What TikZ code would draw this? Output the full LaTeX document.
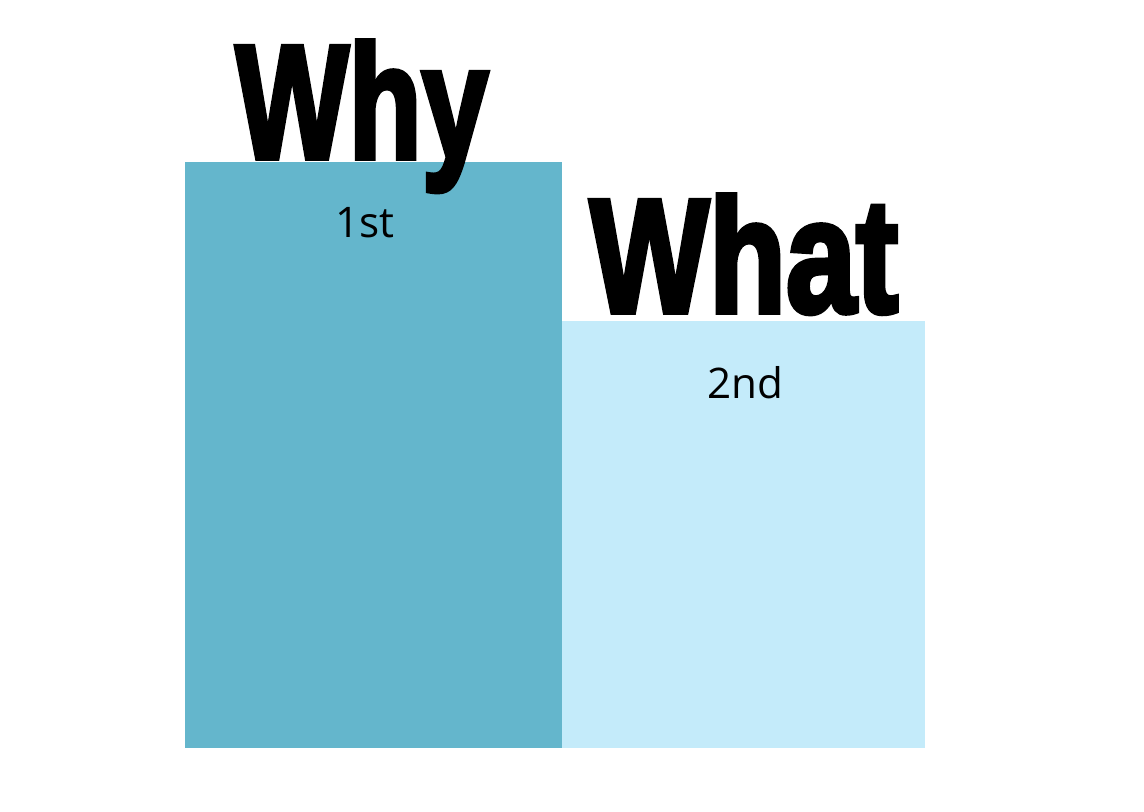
\documentclass[tikz,border=0pt]{standalone}
\usepackage{fontspec}
\usepackage{graphicx}
\usepackage{xcolor}
\newfontfamily\heavyfont[FakeBold=3.5]{Liberation Sans Bold}
\newfontfamily\handfont{Open Sans}
\definecolor{firstblue}{HTML}{64B6CC}
\definecolor{secondblue}{HTML}{C4EBFA}

\begin{document}
\begin{tikzpicture}[x=0.02cm, y=-0.02cm]
    \useasboundingbox (0,0) rectangle (1144,812);

    \fill[firstblue] (185,162) rectangle (562,748);
    \fill[secondblue] (562,321) rectangle (925,748);

    \node[anchor=base, inner sep=0pt] (why) at (362,158)
        {\heavyfont\fontsize{92}{92}\selectfont\scalebox{0.74}[1]{Why}};
    \node[anchor=base, inner sep=0pt] (what) at (744,312)
        {\heavyfont\fontsize{92}{92}\selectfont\scalebox{0.78}[1]{What}};

    \node[font=\handfont\fontsize{24}{24}\selectfont, inner sep=0pt] (first) at (365,223) {1st};
    \node[font=\handfont\fontsize{24}{24}\selectfont, inner sep=0pt] (second) at (745,383) {2nd};
\end{tikzpicture}
\end{document}
